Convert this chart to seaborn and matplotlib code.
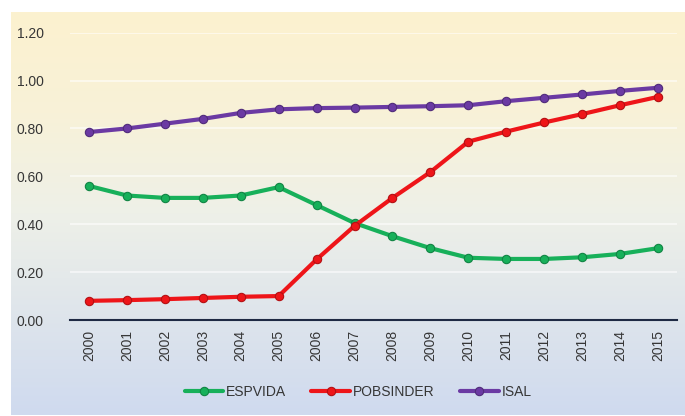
import numpy as np
import pandas as pd
import matplotlib
matplotlib.use("Agg")
import matplotlib.pyplot as plt
from matplotlib.colors import LinearSegmentedColormap
import seaborn as sns

years = [str(y) for y in range(2000, 2016)]
espvida = [0.56, 0.52, 0.51, 0.51, 0.52, 0.555, 0.48, 0.405, 0.35, 0.30,
           0.26, 0.255, 0.255, 0.262, 0.276, 0.30]
pobsinder = [0.08, 0.083, 0.087, 0.092, 0.097, 0.10, 0.253, 0.393, 0.51, 0.618,
             0.745, 0.787, 0.825, 0.86, 0.897, 0.932]
isal = [0.785, 0.80, 0.82, 0.84, 0.865, 0.88, 0.885, 0.887, 0.89, 0.893,
        0.897, 0.914, 0.928, 0.942, 0.957, 0.97]
series_names = ["ESPVIDA", "POBSINDER", "ISAL"]
yticks = [0.0, 0.2, 0.4, 0.6, 0.8, 1.0, 1.2]

df = pd.DataFrame({
    "year": years * 3,
    "value": espvida + pobsinder + isal,
    "serie": sum([[n] * len(years) for n in series_names], []),
})

sns.set_theme(style="white")
plt.rcParams["font.family"] = ["Liberation Sans", "DejaVu Sans"]

W, H = 685, 416
fig = plt.figure(figsize=(W / 100, H / 100), dpi=100)
fig.patch.set_facecolor("white")

# gradient panel behind the chart
bg = fig.add_axes([11 / W, 1 - 415 / H, (W - 11) / W, (415 - 12) / H], zorder=0)
cmap = LinearSegmentedColormap.from_list(
    "panel", [(0.0, "#fcf1cf"), (0.25, "#f8f2d8"), (0.5, "#eef0e8"), (1.0, "#cfdaef")])
grad = np.linspace(0, 1, 256).reshape(-1, 1)
bg.imshow(grad, aspect="auto", cmap=cmap, extent=[0, 1, 0, 1], origin="upper")
bg.set_axis_off()

ax = fig.add_axes([70 / W, 1 - 320 / H, (677 - 70) / W, (320 - 32.7) / H], zorder=1)
ax.patch.set_alpha(0)

palette = {"ESPVIDA": "#17b05a", "POBSINDER": "#ee1519", "ISAL": "#6b3aa3"}
sns.lineplot(data=df, x="year", y="value", hue="serie", palette=palette,
             marker="o", markersize=6, linewidth=3, markeredgewidth=0.8,
             ax=ax, legend=True, sort=False)
for line in ax.get_lines():
    c = matplotlib.colors.to_rgb(line.get_color())
    line.set_markeredgecolor(tuple(v * 0.75 for v in c))

ax.set_xlim(-0.5, len(years) - 0.5)
ax.set_ylim(0, 1.2)
ax.set_yticks(yticks)
ax.set_yticklabels([f"{v:.2f}" for v in yticks])
ax.set_xlabel("")
ax.set_ylabel("")
for v in yticks[1:]:
    ax.axhline(v, color="white", lw=1.2, alpha=0.65, zorder=0)
ax.tick_params(axis="x", rotation=90, labelsize=10, colors="#363636", length=0, pad=7)
ax.tick_params(axis="y", labelsize=10, colors="#363636", length=0, pad=19)
for s in ["top", "right", "left"]:
    ax.spines[s].set_visible(False)
ax.spines["bottom"].set_color("#1f2a44")
ax.spines["bottom"].set_linewidth(1.5)

handles, labels = ax.get_legend_handles_labels()
ax.get_legend().remove()
fig.legend(handles, labels, loc="center", bbox_to_anchor=(358 / W, 1 - 392 / H),
           ncol=3, frameon=False, fontsize=10, handlelength=2.8, columnspacing=1.8,
           handletextpad=0.2, labelcolor="#363636")

fig.savefig("out.png", dpi=100)
